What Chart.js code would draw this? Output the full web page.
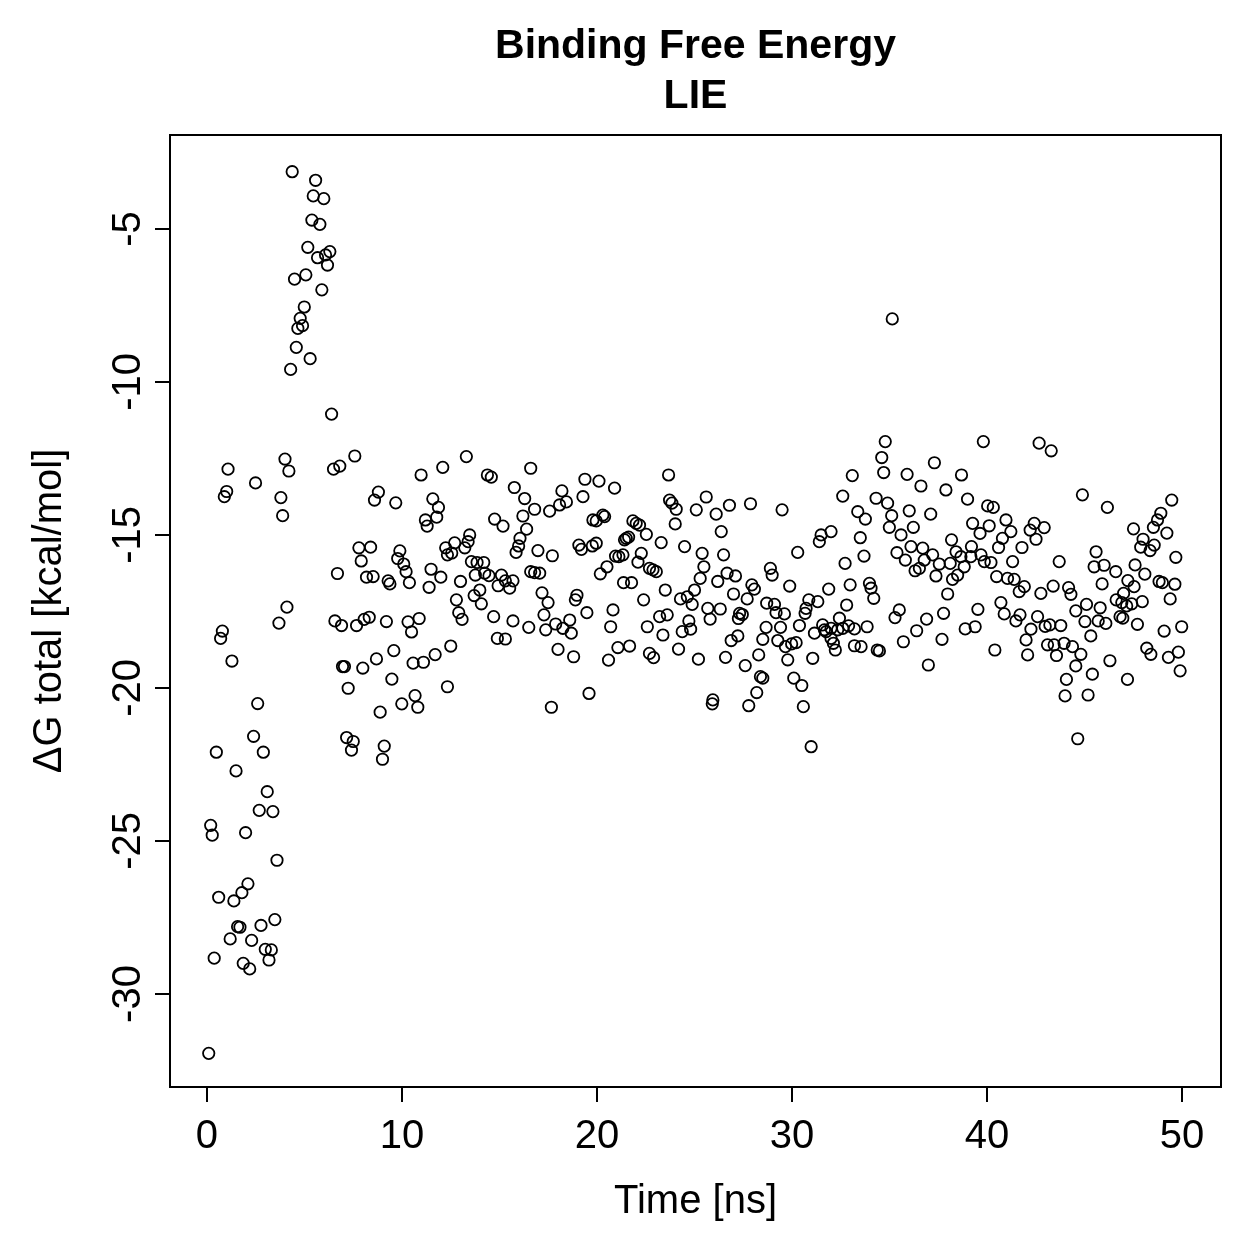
<!DOCTYPE html>
<html>
<head>
<meta charset="utf-8">
<script src="https://cdn.jsdelivr.net/npm/chart.js@4/dist/chart.umd.min.js"></script>
<style>
  html, body { margin: 0; padding: 0; background: #fff; }
  canvas { display: block; }
</style>
</head>
<body>
<canvas id="c" width="1259" height="1259"></canvas>
<script>
// ---- Data: [time (ns), ΔG total (kcal/mol)] ----
const pointsEquilibration = [
  [4.37,-3.13],[5.57,-3.41],[5.45,-3.92],[5.99,-4.01],[5.38,-4.71],[5.79,-4.85],[5.17,-5.60],[6.30,-5.74],[5.67,-5.94],[6.08,-5.85],
  [6.18,-6.18],[5.07,-6.50],[4.49,-6.64],[5.89,-6.99],[4.99,-7.55],[4.78,-7.92],[4.90,-8.16],[4.66,-8.25],[4.58,-8.87],[5.29,-9.24],
  [4.29,-9.59],[6.39,-11.05],[4.00,-12.52],[4.20,-12.91],[1.08,-12.85],[2.49,-13.30],[6.49,-12.85],[6.81,-12.75],[7.58,-12.42],[1.01,-13.58],
  [0.89,-13.75],[3.79,-13.78],[3.88,-14.37],[6.69,-16.26],[4.10,-17.36],[3.69,-17.88],[0.79,-18.14],[0.70,-18.38],[1.28,-19.12],[6.56,-17.81],
  [6.90,-17.96],[6.95,-19.30],[7.05,-19.30],[7.24,-20.01],[2.60,-20.51],[2.39,-21.58],[2.89,-22.10],[0.48,-22.10],[1.49,-22.71],[7.16,-21.62],
  [7.50,-21.75],[7.41,-22.03],[3.09,-23.39],[2.68,-24.00],[3.38,-24.04],[0.19,-24.49],[0.27,-24.81],[1.98,-24.73],[3.59,-25.63],[2.10,-26.40],
  [1.79,-26.69],[1.38,-26.96],[0.60,-26.84],[3.48,-27.57],[2.77,-27.76],[1.57,-27.80],[1.69,-27.82],[1.19,-28.20],[2.29,-28.25],[2.99,-28.54],
  [3.30,-28.56],[3.18,-28.89],[0.37,-28.83],[1.86,-29.00],[2.19,-29.18],[0.09,-31.94]
];
const points7to12 = [
  [10.98,-13.04],[12.09,-12.79],[8.79,-13.60],[8.59,-13.86],[9.68,-13.95],[11.58,-13.82],[11.87,-14.10],[11.78,-14.42],[11.20,-14.51],[11.29,-14.71],
  [7.79,-15.42],[8.39,-15.40],[7.91,-15.85],[9.89,-15.52],[9.78,-15.77],[10.09,-15.95],[10.21,-16.20],[10.38,-16.56],[8.18,-16.38],[8.52,-16.36],
  [9.29,-16.50],[9.38,-16.60],[11.49,-16.12],[11.99,-16.38],[11.39,-16.71],[7.67,-17.96],[8.06,-17.76],[8.32,-17.69],[9.20,-17.83],[10.31,-17.84],
  [10.49,-18.17],[10.88,-17.73],[7.99,-19.35],[8.69,-19.05],[9.58,-18.78],[10.57,-19.19],[11.10,-19.16],[11.70,-18.91],[9.48,-19.71],[8.88,-20.79],
  [9.99,-20.52],[10.67,-20.25],[10.81,-20.63],[9.09,-21.90],[9.00,-22.33]
];
const points12to18 = [
  [13.30,-12.44],[14.38,-13.04],[14.58,-13.11],[16.60,-12.82],[15.76,-13.45],[16.29,-13.81],[16.80,-14.16],[17.57,-14.22],[14.75,-14.48],[15.18,-14.71],
  [16.20,-14.38],[16.39,-14.81],[16.05,-15.11],[15.98,-15.36],[15.85,-15.57],[16.97,-15.51],[17.71,-15.68],[13.47,-15.00],[13.39,-15.22],[13.22,-15.42],
  [12.24,-15.42],[12.70,-15.26],[12.55,-15.59],[12.33,-15.65],[13.56,-15.87],[13.85,-15.90],[14.19,-15.90],[13.76,-16.31],[14.24,-16.25],[14.46,-16.33],
  [15.10,-16.31],[14.93,-16.66],[15.30,-16.50],[15.52,-16.74],[15.69,-16.50],[16.60,-16.20],[16.80,-16.23],[17.06,-16.25],[13.00,-16.52],[13.99,-16.80],
  [13.70,-16.98],[14.07,-17.25],[12.79,-17.12],[12.91,-17.54],[13.08,-17.76],[17.18,-16.89],[17.49,-17.21],[17.28,-17.61],[17.37,-18.10],[14.70,-17.67],
  [15.69,-17.81],[16.50,-18.02],[14.89,-18.38],[15.30,-18.40],[12.50,-18.63],[12.33,-19.96],[17.66,-20.63]
];
const points18to23 = [
  [19.38,-13.18],[20.10,-13.24],[20.90,-13.47],[18.20,-13.56],[18.08,-14.02],[18.43,-13.92],[19.28,-13.75],[19.79,-14.51],[19.96,-14.54],[20.30,-14.35],
  [20.39,-14.40],[19.07,-15.33],[19.20,-15.47],[19.76,-15.36],[19.96,-15.27],[21.84,-14.54],[22.01,-14.62],[22.18,-14.68],[22.53,-14.98],[21.50,-15.11],
  [21.62,-15.07],[21.41,-15.16],[22.27,-15.60],[22.10,-15.89],[20.51,-16.04],[20.17,-16.27],[20.95,-15.69],[21.12,-15.71],[21.33,-15.65],[22.69,-16.09],
  [22.87,-16.14],[23.04,-16.20],[21.36,-16.56],[21.77,-16.56],[22.39,-17.12],[18.97,-16.97],[18.89,-17.12],[19.48,-17.54],[20.82,-17.45],[20.70,-18.00],
  [17.88,-17.91],[18.25,-18.05],[18.60,-17.78],[18.68,-18.21],[22.58,-18.00],[18.00,-18.74],[18.80,-18.98],[21.07,-18.68],[21.67,-18.63],[20.59,-19.09],
  [22.69,-18.87],[22.90,-19.01],[19.59,-20.18]
];
const points23to28 = [
  [23.67,-13.04],[23.72,-13.86],[23.84,-13.96],[24.06,-14.16],[25.60,-13.76],[25.09,-14.18],[26.11,-14.32],[26.79,-14.03],[27.87,-13.98],[24.01,-14.64],
  [26.37,-14.89],[23.29,-15.25],[24.49,-15.38],[25.39,-15.60],[25.48,-16.04],[25.29,-16.42],[25.00,-16.80],[24.63,-17.02],[24.28,-17.09],[24.88,-17.27],
  [26.49,-15.65],[26.19,-16.52],[26.67,-16.25],[27.10,-16.34],[23.50,-16.80],[27.00,-16.93],[27.70,-17.09],[27.94,-16.63],[28.07,-16.77],[25.68,-17.40],
  [25.80,-17.75],[26.32,-17.42],[27.31,-17.56],[27.45,-17.60],[27.25,-17.73],[23.21,-17.67],[23.60,-17.61],[24.71,-17.81],[24.80,-18.08],[24.37,-18.16],
  [23.38,-18.27],[26.88,-18.45],[27.22,-18.30],[24.18,-18.73],[25.20,-19.06],[26.59,-19.00],[27.60,-19.27],[28.29,-18.92],[28.38,-19.63],[28.50,-19.68],
  [28.19,-20.15],[27.78,-20.58],[25.94,-20.39],[25.91,-20.52]
];
const points28to34 = [
  [29.49,-14.18],[30.29,-15.57],[28.89,-16.09],[28.98,-16.31],[29.88,-16.67],[28.70,-17.23],[29.10,-17.27],[29.18,-17.54],[29.61,-17.58],[28.67,-18.02],
  [29.41,-18.02],[30.38,-17.96],[28.50,-18.41],[29.27,-18.45],[29.66,-18.65],[29.98,-18.56],[30.21,-18.52],[29.78,-19.08],[31.06,-19.03],[30.09,-19.68],
  [30.50,-19.92],[30.58,-20.61],[30.98,-21.92],[30.86,-17.12],[31.32,-17.18],[30.72,-17.40],[30.67,-17.56],[31.15,-18.21],[31.88,-16.77],[31.49,-15.00],
  [31.40,-15.22],[32.00,-14.89],[32.60,-13.73],[33.09,-13.06],[33.37,-14.24],[33.76,-14.48],[33.50,-15.09],[33.69,-15.69],[32.72,-15.93],[32.98,-16.63],
  [32.80,-17.29],[31.57,-17.94],[31.66,-18.10],[31.75,-18.16],[32.00,-18.05],[32.34,-18.10],[32.43,-17.72],[32.60,-18.05],[32.90,-17.97],[33.20,-18.07],
  [32.12,-18.54],[32.22,-18.76],[32.00,-18.38],[33.20,-18.62],[33.54,-18.65],[33.85,-18.00]
];
const points34to39 = [
  [34.78,-11.95],[34.60,-12.47],[34.70,-12.96],[37.30,-12.64],[35.90,-13.02],[36.61,-13.40],[37.89,-13.53],[38.69,-13.04],[39.00,-13.83],[34.31,-13.80],
  [34.90,-13.96],[35.11,-14.37],[34.99,-14.75],[35.59,-15.00],[36.01,-14.21],[36.22,-14.75],[37.11,-14.32],[35.38,-15.58],[35.81,-15.82],[36.10,-15.38],
  [36.70,-15.43],[36.31,-16.17],[36.53,-16.09],[36.78,-15.82],[37.21,-15.65],[37.55,-15.95],[37.38,-16.34],[38.18,-15.16],[38.41,-15.55],[38.11,-15.93],
  [38.66,-15.71],[38.83,-16.04],[39.17,-15.71],[39.20,-15.38],[38.49,-16.31],[38.23,-16.45],[39.26,-14.62],[33.97,-16.58],[34.05,-16.74],[34.19,-17.07],
  [37.98,-16.93],[35.50,-17.45],[35.28,-17.70],[36.90,-17.75],[36.39,-18.13],[37.77,-17.56],[34.37,-18.76],[34.48,-18.79],[35.71,-18.49],[37.69,-18.41],
  [36.99,-19.25],[38.88,-18.07],[35.14,-7.94]
];
const points39to45 = [
  [39.81,-11.95],[42.67,-12.00],[43.29,-12.25],[40.03,-14.05],[40.32,-14.10],[39.64,-14.95],[40.11,-14.70],[40.97,-14.51],[41.22,-14.89],[40.79,-15.11],
  [40.59,-15.41],[42.42,-14.62],[42.93,-14.76],[42.21,-14.84],[42.51,-15.14],[41.79,-15.41],[39.69,-15.65],[39.86,-15.87],[40.20,-15.90],[41.31,-15.87],
  [43.70,-15.87],[40.49,-16.36],[41.05,-16.42],[41.39,-16.45],[41.65,-16.85],[41.91,-16.69],[42.76,-16.91],[43.39,-16.67],[44.18,-16.72],[44.30,-16.94],
  [40.71,-17.21],[40.88,-17.58],[41.48,-17.81],[41.69,-17.61],[42.25,-18.08],[42.59,-17.67],[42.98,-17.99],[43.22,-17.94],[43.78,-17.96],[42.00,-18.43],
  [42.08,-18.92],[39.53,-17.43],[39.39,-18.00],[43.10,-18.59],[43.44,-18.59],[43.56,-18.94],[43.95,-18.54],[44.38,-18.65],[44.55,-19.28],[40.40,-18.76],
  [44.07,-19.72],[44.00,-20.26],[44.65,-21.66]
];
const points45to50 = [
  [44.89,-13.69],[46.17,-14.10],[49.47,-13.86],[48.91,-14.29],[48.74,-14.51],[48.53,-14.75],[49.22,-14.94],[47.51,-14.80],[48.00,-15.14],[47.88,-15.40],
  [48.57,-15.33],[48.36,-15.51],[49.68,-15.73],[45.59,-15.55],[45.49,-16.04],[46.00,-15.99],[46.60,-16.20],[47.59,-15.98],[48.09,-16.28],[48.82,-16.52],
  [48.99,-16.56],[49.63,-16.61],[49.39,-17.09],[45.90,-16.60],[47.22,-16.49],[47.54,-16.69],[47.00,-16.91],[46.62,-17.12],[46.91,-17.21],[47.16,-17.32],
  [47.42,-17.25],[47.96,-17.18],[46.82,-17.67],[46.96,-17.72],[46.09,-17.89],[45.10,-17.27],[45.80,-17.38],[44.55,-17.48],[45.02,-17.83],[45.32,-18.30],
  [45.70,-17.81],[47.71,-17.92],[49.08,-18.14],[49.98,-18.00],[44.81,-18.90],[48.19,-18.70],[48.40,-18.90],[49.30,-19.00],[49.81,-18.83],[49.90,-19.44],
  [46.30,-19.11],[45.40,-19.55],[47.20,-19.72],[45.18,-20.23]
];

const xTicks = [0, 10, 20, 30, 40, 50];
const yTicks = [-30, -25, -20, -15, -10, -5];
const titleLines = ['Binding Free Energy', 'LIE'];
const xLabel = 'Time [ns]';
const yLabel = 'ΔG total [kcal/mol]';

// ---- Chart ----
const FONT = "'Liberation Sans', Arial, Helvetica, sans-serif";
const allPoints = [].concat(pointsEquilibration, points7to12, points12to18, points18to23,
  points23to28, points28to34, points34to39, points39to45, points45to50)
  .map(p => ({ x: p[0], y: p[1] }));

const frame = {
  id: 'frame',
  afterDraw(chart) {
    const { ctx, chartArea: a } = chart;
    ctx.save();
    ctx.strokeStyle = '#000';
    ctx.lineWidth = 2;
    ctx.strokeRect(a.left, a.top, a.right - a.left, a.bottom - a.top);
    ctx.restore();
  }
};

new Chart(document.getElementById('c'), {
  type: 'scatter',
  data: {
    datasets: [{
      data: allPoints,
      pointStyle: 'circle',
      pointRadius: 5.7,
      pointHoverRadius: 5.7,
      pointBorderWidth: 1.8,
      pointBorderColor: '#000',
      pointBackgroundColor: 'rgba(0,0,0,0)'
    }]
  },
  options: {
    responsive: false,
    devicePixelRatio: 1,
    animation: false,
    events: [],
    layout: { padding: { left: 0, right: 38, top: 0, bottom: 0 } },
    plugins: {
      legend: { display: false },
      tooltip: { enabled: false },
      title: {
        display: true,
        fullSize: false,
        text: titleLines,
        color: '#000',
        font: { family: FONT, size: 41, weight: 'bold', lineHeight: 50 / 41 },
        padding: { top: 22, bottom: 13 }
      }
    },
    scales: {
      x: {
        type: 'linear',
        min: -1.896,
        max: 51.996,
        afterBuildTicks: s => { s.ticks = xTicks.map(v => ({ value: v })); },
        afterFit: s => { s.height = 172; },
        ticks: { autoSkip: false, maxRotation: 0, color: '#000', padding: 11,
                 font: { family: FONT, size: 40 } },
        grid: { drawOnChartArea: false, drawTicks: true, tickLength: 15, color: '#000', lineWidth: 2 },
        border: { display: true, color: '#000', width: 2 },
        title: { display: true, text: xLabel, color: '#000',
                 font: { family: FONT, size: 40 }, padding: { top: 0, bottom: 33 } }
      },
      y: {
        type: 'linear',
        min: -33.04,
        max: -1.93,
        afterBuildTicks: s => { s.ticks = yTicks.map(v => ({ value: v })); },
        afterFit: s => { s.width = 170; },
        ticks: { autoSkip: false, minRotation: 90, maxRotation: 90, crossAlign: 'center',
                 color: '#000', padding: -3, font: { family: FONT, size: 40 } },
        grid: { drawOnChartArea: false, drawTicks: true, tickLength: 15, color: '#000', lineWidth: 2 },
        border: { display: true, color: '#000', width: 2 },
        title: { display: true, text: yLabel, color: '#000',
                 font: { family: FONT, size: 40 }, padding: { top: 26, bottom: 0 } }
      }
    }
  },
  plugins: [frame]
});
</script>
</body>
</html>
